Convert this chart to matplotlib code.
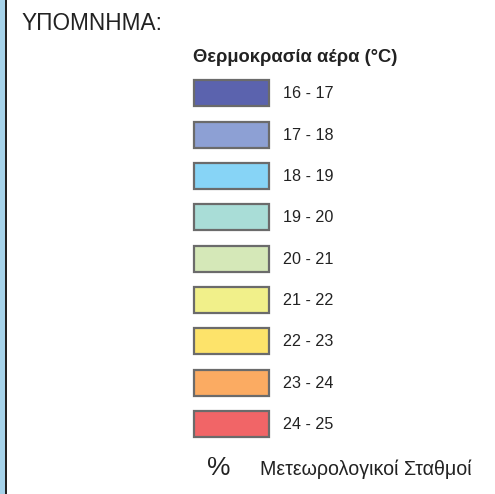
import matplotlib.pyplot as plt
from matplotlib.patches import Rectangle

plt.rcParams['font.family'] = ['Liberation Sans', 'DejaVu Sans']

# legend data
ranges = ['16 - 17', '17 - 18', '18 - 19', '19 - 20', '20 - 21',
          '21 - 22', '22 - 23', '23 - 24', '24 - 25']
colors = ['#5b63ae', '#8da0d4', '#87d4f6', '#a9ddd7', '#d5e8b8',
          '#f1f08a', '#fde36a', '#fbab62', '#f16567']
title = 'ΥΠΟΜΝΗΜΑ:'
subtitle = 'Θερμοκρασία αέρα (°C)'
station_label = 'Μετεωρολογικοί Σταθμοί'

W, H = 495, 494
fig = plt.figure(figsize=(W / 100, H / 100), dpi=100)
ax = fig.add_axes([0, 0, 1, 1])
ax.set_xlim(0, W)
ax.set_ylim(H, 0)
ax.axis('off')

# left frame strip
ax.add_patch(Rectangle((0, 0), 4.5, H, color='#a6d3ea', lw=0))
ax.add_patch(Rectangle((4.5, 0), 2, H, color='#222222', lw=0))

ax.text(21, 23, title, fontsize=16.3, va='center', ha='left', color='#222222')
ax.text(193, 58, subtitle, fontsize=13.2, fontweight='bold', va='center', ha='left',
        color='#222222')

y0 = 80.5
step = 41.3
for i, (lab, c) in enumerate(zip(ranges, colors)):
    y = y0 + i * step
    ax.add_patch(Rectangle((194, y), 75, 26, facecolor=c, edgecolor='#6b6b6b', lw=1.6))
    ax.text(283, y + 13.5, lab, fontsize=11.6, va='center', ha='left', color='#222222')

ax.text(219, 468, '%', fontsize=19, va='center', ha='center', color='#222222')
ax.text(260, 469, station_label, fontsize=14.1, va='center', ha='left', color='#222222')

fig.savefig('out.png', dpi=100)
